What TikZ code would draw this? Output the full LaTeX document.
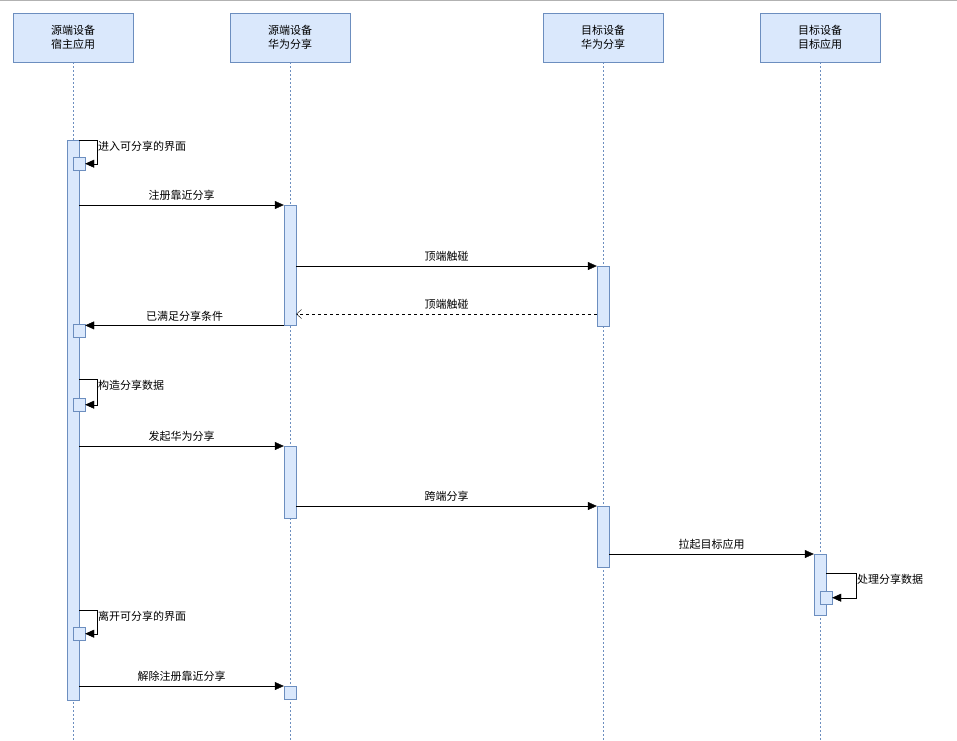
\documentclass[tikz,border=0pt]{standalone}
\usepackage{fontspec}
\setmainfont{Noto Sans CJK SC}
\usetikzlibrary{arrows.meta,positioning,calc}
\definecolor{actfill}{HTML}{DAE8FC}
\definecolor{actline}{HTML}{6C8EBF}
\tikzset{
  head/.style={draw=actline,fill=actfill,minimum width=120pt,minimum height=49pt,align=center,inner sep=0pt,font=\fontsize{11}{14}\selectfont},
  act/.style={draw=actline,fill=actfill,minimum width=12pt,inner sep=0pt,anchor=north},
  life/.style={draw=actline,dash pattern=on 2pt off 2pt},
  msg/.style={-{Triangle[length=9pt,width=8pt]},black},
  ret/.style={-{Straight Barb[length=5pt,width=9pt]},black,dashed},
  lbl/.style={font=\fontsize{11}{13}\selectfont,inner sep=1pt}
}
\begin{document}
\begin{tikzpicture}[x=1pt,y=-1pt]
\useasboundingbox (0,0) rectangle (957,740);
\draw[gray!60] (0,0.5) -- (957,0.5);
% lifelines
\node[head] (h1) at (73,37.5) {源端设备\\宿主应用};
\node[head] (h2) at (290,37.5) {源端设备\\华为分享};
\node[head] (h3) at (603,37.5) {目标设备\\华为分享};
\node[head] (h4) at (820,37.5) {目标设备\\目标应用};
\foreach \h in {h1,h2,h3,h4}
  \draw[life] (\h.south) -- (\h.south |- 0,740);
% activations
\node[act,minimum height=560pt] (a1) at (73,140) {};
\node[act,minimum height=120pt] (a2) at (290,205) {};
\node[act,minimum height=60pt] (a3) at (603,266) {};
\node[act,minimum height=72pt] (b2) at (290,446) {};
\node[act,minimum height=61pt] (b3) at (603,506) {};
\node[act,minimum height=61pt] (a4) at (820,554) {};
\node[act,minimum height=13pt] (c2) at (290,686) {};
% self calls
\node[act,minimum height=13pt] (s1) at (79,157) {};
\node[act,minimum height=13pt] (s2) at (79,324) {};
\node[act,minimum height=13pt] (s3) at (79,398) {};
\node[act,minimum height=13pt] (s4) at (826,591) {};
\node[act,minimum height=13pt] (s5) at (79,627) {};
\draw[msg] (79,140) -- (97,140) |- (s1.east);
\node[lbl,anchor=west] (t1) at (97,146) {进入可分享的界面};
\draw[msg] (79,379) -- (97,379) |- (s3.east);
\node[lbl,anchor=west] (t3) at (97,385) {构造分享数据};
\draw[msg] (826,573) -- (856,573) |- (s4.east);
\node[lbl,anchor=west] (t4) at (856,579) {处理分享数据};
\draw[msg] (79,610) -- (97,610) |- (s5.east);
\node[lbl,anchor=west] (t5) at (97,616) {离开可分享的界面};
% messages
\draw[msg] (a1.east |- a2.north) -- node[lbl,above=3pt] {注册靠近分享} (a2.north west);
\draw[msg] (a2.east |- a3.north) -- node[lbl,above=3pt] {顶端触碰} (a3.north west);
\draw[ret] (a3.west |- 0,314) -- node[lbl,above=3pt] {顶端触碰} (a2.east |- 0,314);
\draw[msg] (a2.south west) -- node[lbl,above=3pt] {已满足分享条件} (s2.east |- a2.south);
\draw[msg] (a1.east |- b2.north) -- node[lbl,above=3pt] {发起华为分享} (b2.north west);
\draw[msg] (b2.east |- b3.north) -- node[lbl,above=3pt] {跨端分享} (b3.north west);
\draw[msg] (b3.east |- a4.north) -- node[lbl,above=3pt] {拉起目标应用} (a4.north west);
\draw[msg] (a1.east |- c2.north) -- node[lbl,above=3pt] {解除注册靠近分享} (c2.north west);
\end{tikzpicture}
\end{document}
